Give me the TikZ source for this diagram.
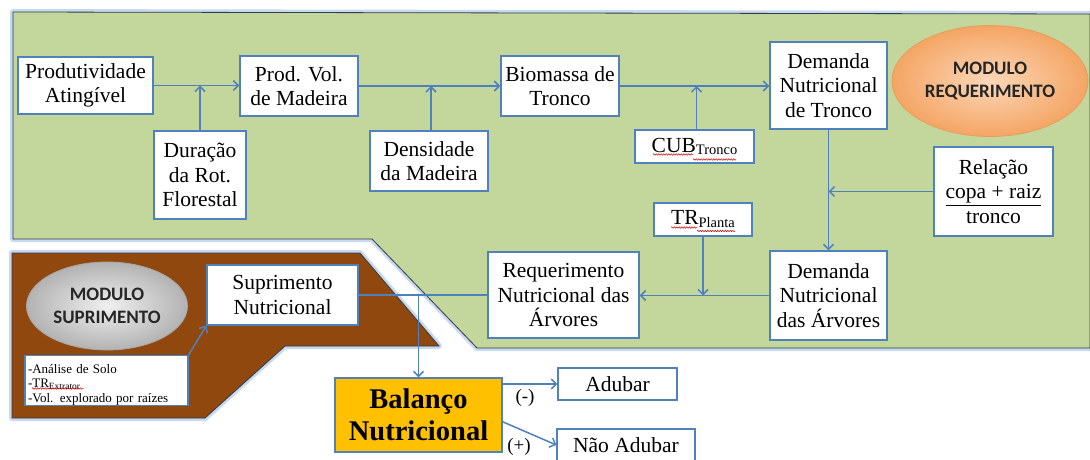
\documentclass[tikz,border=0pt]{standalone}
\usepackage{fontspec}
\setmainfont{Liberation Serif}
\newfontfamily\ellfont{Carlito}
\usetikzlibrary{arrows.meta,shapes.geometric,calc,decorations.pathmorphing}
\definecolor{bxblue}{RGB}{79,129,189}
\definecolor{greenf}{RGB}{195,214,155}
\definecolor{brownf}{RGB}{145,72,14}
\definecolor{glowc}{RGB}{198,217,240}
\definecolor{edgec}{RGB}{50,60,70}
\definecolor{balor}{RGB}{255,192,0}
\definecolor{peach}{RGB}{252,215,185}
\definecolor{orng}{RGB}{244,165,100}
\newcommand{\lowtxt}[2]{{\fontsize{#1}{#1}\selectfont\raisebox{-0.3\height}{#2}}}
\begin{document}
\begin{tikzpicture}[x=1pt,y=-1pt,
  box/.style={draw=bxblue, line width=1.3pt, fill=white, align=center, inner sep=2pt,
    font=\fontsize{21.5}{24.5}\selectfont},
  arr/.style={draw=bxblue, line width=1.5pt, -{Straight Barb[length=5pt,width=10pt]}},
  ln/.style={draw=bxblue, line width=1.5pt},
  ell/.style={ellipse, align=center, inner sep=0pt,
    font=\ellfont\fontsize{19}{23}\selectfont\bfseries, text=black!85},
  lbl/.style={font=\fontsize{19}{21}\selectfont, inner sep=0pt},
  squig/.style={draw=red!80!black, line width=0.5pt, decorate,
    decoration={snake, amplitude=0.7pt, segment length=2.5pt}}]

\useasboundingbox (0,0) rectangle (1090,460);

% green area
\path[draw=glowc, line width=6pt, line join=round]
  (13,12) -- (1090,14) -- (1090,348) -- (477,348) -- (372,239) -- (13,239) -- cycle;
\path[fill=greenf, draw=edgec, line width=0.8pt]
  (13,12) -- (1090,14) -- (1090,348) -- (477,348) -- (372,239) -- (13,239) -- cycle;

% brown area
\path[draw=glowc, line width=6pt, line join=round]
  (12,253) -- (360,253) -- (439,346) -- (285,346) -- (205,418) -- (12,418) -- cycle;
\path[fill=brownf, draw=edgec, line width=0.8pt]
  (12,253) -- (360,253) -- (439,346) -- (285,346) -- (205,418) -- (12,418) -- cycle;

% ellipses
\node[ell, minimum width=196, minimum height=111, draw=orng!80!brown, line width=0.8pt,
  inner color=peach, outer color=orng] (mreq) at (990,81) {MODULO\\REQUERIMENTO};
\node[ell, minimum width=161, minimum height=88, draw=gray!70, line width=0.8pt,
  inner color=gray!12, outer color=gray!60] (msup) at (107,306) {MODULO\\SUPRIMENTO};

% boxes
\node[box, minimum width=135, minimum height=57] (prod) at (85.5,85.5) {Produtividade\\Atingível};
\node[box, minimum width=118, minimum height=60] (vol) at (299,86) {Prod. Vol.\\de Madeira};
\node[box, minimum width=92, minimum height=88] (dur) at (200,175) {Duração\\da Rot.\\Florestal};
\node[box, minimum width=118, minimum height=60] (dens) at (429,161) {Densidade\\da Madeira};
\node[box, minimum width=118, minimum height=60] (bio) at (560,86) {Biomassa de\\Tronco};
\node[box, minimum width=119, minimum height=33] (cub) at (694.5,146.5) {CUB\lowtxt{14.5}{Tronco}};
\node[box, minimum width=117, minimum height=87] (dtr) at (828.5,85.5) {Demanda\\Nutricional\\de Tronco};
\node[box, minimum width=119, minimum height=89] (rel) at (993.5,191.5) {Relação\\\underline{copa + raiz}\\tronco};
\node[box, minimum width=98, minimum height=33] (trp) at (703,219.5) {TR\lowtxt{14.5}{Planta}};
\node[box, minimum width=117, minimum height=89] (darv) at (828.5,295.5) {Demanda\\Nutricional\\das Árvores};
\node[box, minimum width=151, minimum height=86] (req) at (563.5,295) {Requerimento\\Nutricional das\\Árvores};
\node[box, minimum width=151, minimum height=60] (sup) at (282.5,295) {Suprimento\\Nutricional};
\node[box, minimum width=163, minimum height=50] (solo) at (106.5,380.5) {};
\node[text width=157, inner sep=0pt, align=left,
  font=\fontsize{13}{14.5}\selectfont] (solotxt) at (106.5,384.5)
  {-Análise de Solo\\-TR\lowtxt{9.5}{Extrator}\\-Vol. explorado por raízes};
\node[box, fill=balor, minimum width=167, minimum height=74,
  font=\fontsize{28.5}{32}\selectfont\bfseries] (bal) at (418.5,415) {Balanço\\Nutricional};
\node[box, minimum width=119, minimum height=32] (adub) at (617.5,384) {Adubar};
\node[box, minimum width=138, minimum height=32] (nadub) at (626,445) {Não Adubar};

% spell-check squiggles
\draw[squig] ($(cub.center)+(-41.5,8)$) -- ($(cub.center)+(-1.5,8)$);
\draw[squig] ($(cub.center)+(-1.5,13)$) -- ($(cub.center)+(41.5,13)$);
\draw[squig] ($(trp.center)+(-32,8)$) -- ($(trp.center)+(-6,8)$);
\draw[squig] ($(trp.center)+(-6,11.5)$) -- ($(trp.center)+(32,11.5)$);
\draw[squig] ($(solo.center)+(-74.5,8)$) -- ($(solo.center)+(-23,8)$);

% connectors
\draw[arr] (prod.east) -- (prod.east -| vol.west);
\draw[arr] (dur.north) -- (dur.north |- prod.east);
\draw[arr] (vol.east) -- (vol.east -| bio.west);
\draw[arr] ([xshift=2pt]dens.north) -- ([xshift=2pt]dens.north |- vol.east);
\draw[arr] (bio.east) -- (bio.east -| dtr.west);
\draw[arr] ([xshift=2pt]cub.north) -- ([xshift=2pt]cub.north |- bio.east);
\draw[arr] (dtr.south) -- (darv.north);
\draw[arr] (rel.west) -- (rel.west -| dtr.south);
\draw[arr] (darv.west) -- (darv.west -| req.east);
\draw[arr] (trp.south) -- (trp.south |- darv.west);
\draw[ln] (req.west) -- (req.west -| sup.east);
\coordinate (jn) at (bal.north |- sup.east);
\draw[arr] (jn) -- (bal.north);
\draw[arr] (solo.north east) -- (sup.south west);
\draw[arr] (bal.east |- adub.west) -- (adub.west);
\draw[arr] ($(bal.north east)!0.59!(bal.south east)$) -- (nadub.west);

\node[lbl] (minus) at (525,398) {(-)};
\node[lbl] (plus) at (519,447) {(+)};
\end{tikzpicture}
\end{document}
